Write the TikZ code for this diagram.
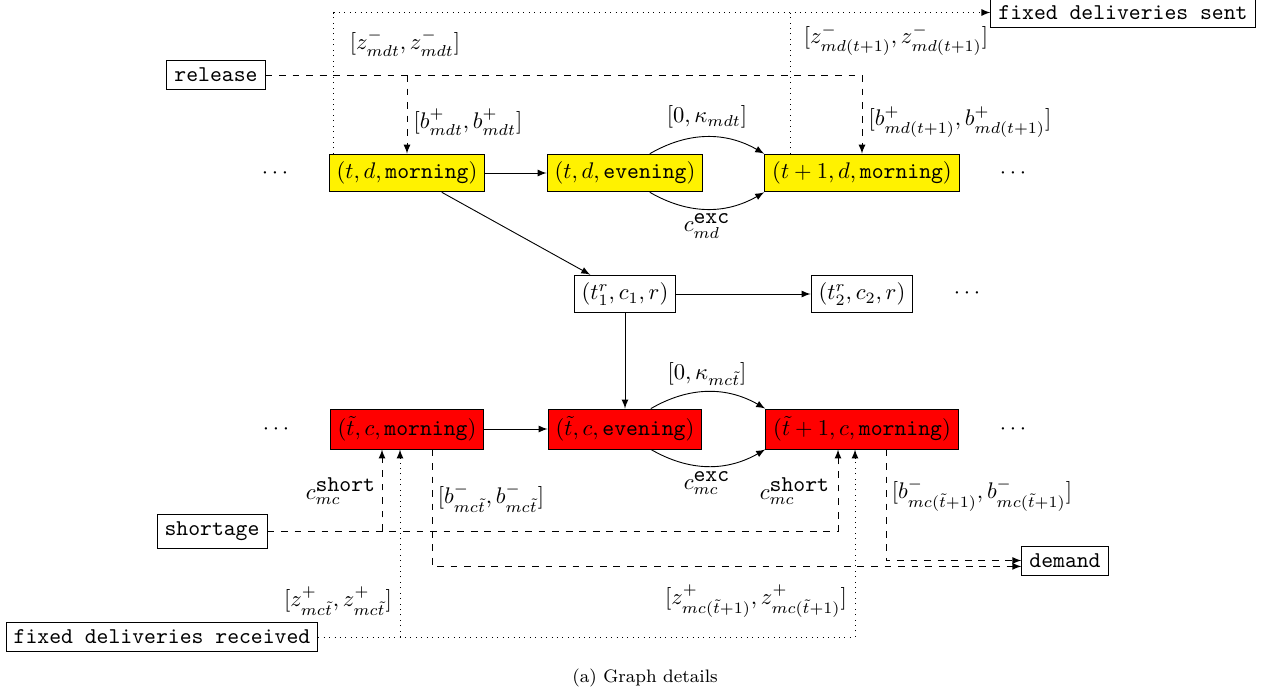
\documentclass[tikz,border=0pt]{standalone}
\begin{document}
\begin{tikzpicture}[x=0.4425pt, y=-0.4425pt,
  box/.style={draw, inner sep=0.3333em},
  yel/.style={box, fill=yellow},
  redbox/.style={box, fill=red},
  arr/.style={-latex},
  dsh/.style={dashed, -latex},
  dtd/.style={dotted, -latex},
  lbl/.style={inner sep=0pt}]
\useasboundingbox (0,0) rectangle (1267,692);

% depot rows (yellow) and customer rows (red)
\node[yel] (tdm)  at (407,173) {$(t,d,\mathtt{morning})$};
\node[yel] (tde)  at (625,173) {$(t,d,\mathtt{evening})$};
\node[yel] (t1dm) at (862,173) {$(t+1,d,\mathtt{morning})$};
\node (dl1) at (275,173) {$\cdots$};
\node (dr1) at (1013,173) {$\cdots$};

\node[box] (r1) at (625,294) {$(t^r_1,c_1,r)$};
\node[box] (r2) at (862,294) {$(t^r_2,c_2,r)$};
\node (dr2) at (967,293) {$\cdots$};

\node[redbox] (cm)  at (407,429) {$(\tilde t,c,\mathtt{morning})$};
\node[redbox] (ce)  at (625,429) {$(\tilde t,c,\mathtt{evening})$};
\node[redbox] (c1m) at (862,429) {$(\tilde t+1,c,\mathtt{morning})$};
\node (dl3) at (276,429) {$\cdots$};
\node (dr3) at (1013,429) {$\cdots$};

% sources and sinks
\node[box] (rel) at (216,75)   {\texttt{release}};
\node[box] (fds) at (1123,12.5) {\texttt{fixed deliveries sent}};
\node[box] (sho) at (212,531)  {\texttt{shortage}};
\node[box] (fdr) at (162,637)  {\texttt{fixed deliveries received}};
\node[box] (dem) at (1065,560.5) {\texttt{demand}};

% solid arcs
\draw[arr] (tdm) -- (tde);
\draw[arr] (tde) to[bend left] (t1dm.north west);
\draw[arr] (tde) to[bend right] (t1dm.south west);
\draw[arr] (tdm) -- (r1);
\draw[arr] (r1) -- (r2);
\draw[arr] (r1) -- (ce);
\draw[arr] (cm) -- (ce);
\draw[arr] (ce) to[bend left] (c1m.north west);
\draw[arr] (ce) to[bend right] (c1m.south west);

\node[lbl] (kap1) at (707,117) {$[0,\kappa_{mdt}]$};
\node[lbl] (exc1) at (707,226) {$c^{\mbox{\texttt{exc}}}_{md}$};
\node[lbl] (kap2) at (707,374) {$[0,\kappa_{mc\tilde t}]$};
\node[lbl] (exc2) at (707,483) {$c^{\mbox{\texttt{exc}}}_{mc}$};

% release
\draw[dsh] (rel.east) -| (t1dm.north);
\draw[dsh] (rel.east -| tdm.north) -- (tdm.north);
\node[lbl] (bp1) at (468,122) {$[b^+_{mdt},b^+_{mdt}]$};
\node[lbl] (bp2) at (960,122) {$[b^+_{md(t+1)},b^+_{md(t+1)}]$};

% fixed deliveries sent
\coordinate (zs1) at ([shift={(5,0)}]tdm.north west);
\coordinate (zs2) at ([shift={(26,0)}]t1dm.north west);
\draw[dtd] (zs1) |- (fds.west);
\draw[dotted] (zs2) -- (zs2 |- fds.west);
\node[lbl] (zm1) at (405,43) {$[z^-_{mdt},z^-_{mdt}]$};
\node[lbl] (zm2) at (896,40) {$[z^-_{md(t+1)},z^-_{md(t+1)}]$};

% shortage
\coordinate (sh1) at ([shift={(-25,0)}]cm.south);
\coordinate (sh2) at ([shift={(-24,0)}]c1m.south);
\draw[dsh] (sho.east) -| (sh2);
\draw[dsh] (sh1 |- sho.east) -- (sh1);
\node[lbl] (cs1) at (341,491) {$c^{\mbox{\texttt{short}}}_{mc}$};
\node[lbl] (cs2) at (795,491) {$c^{\mbox{\texttt{short}}}_{mc}$};

% fixed deliveries received
\coordinate (zr1) at ([shift={(-7,0)}]cm.south);
\coordinate (zr2) at ([shift={(-7,0)}]c1m.south);
\draw[dtd] (fdr.east) -| (zr2);
\draw[dtd] (zr1 |- fdr.east) -- (zr1);
\node[lbl] (zp1) at (338,601) {$[z^+_{mc\tilde t},z^+_{mc\tilde t}]$};
\node[lbl] (zp2) at (756,601) {$[z^+_{mc(\tilde t+1)},z^+_{mc(\tilde t+1)}]$};

% demand
\coordinate (dm1) at ([shift={(25,0)}]cm.south);
\coordinate (dm2) at ([shift={(24,0)}]c1m.south);
\draw[dsh] (dm1) |- ([yshift=-2.6pt]dem.west);
\draw[dsh] (dm2) |- (dem.west);
\node[lbl] (bm1) at (491,498) {$[b^-_{mc\tilde t},b^-_{mc\tilde t}]$};
\node[lbl] (bm2) at (982,495) {$[b^-_{mc(\tilde t+1)},b^-_{mc(\tilde t+1)}]$};

\node (cap) at (645,678) {\footnotesize (a) Graph details};
\end{tikzpicture}
\end{document}
